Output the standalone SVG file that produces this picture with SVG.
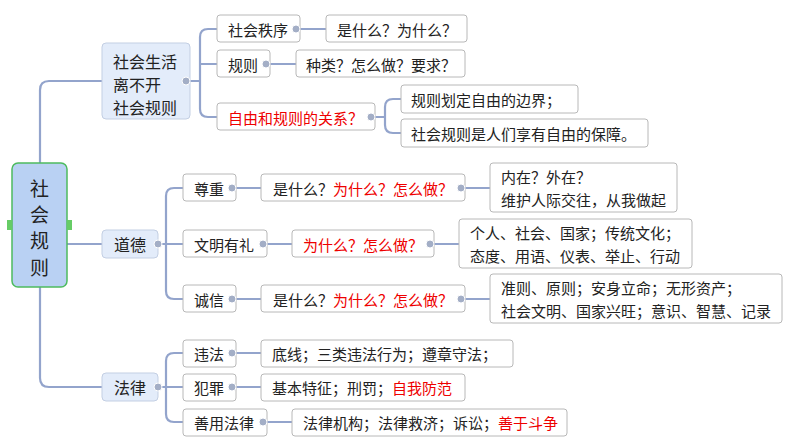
<svg xmlns="http://www.w3.org/2000/svg" width="794" height="447" viewBox="0 0 794 447">
<style>
text{font-family:"Noto Sans CJK SC","Liberation Sans",sans-serif;fill:#222;font-size:15px;dominant-baseline:central}
.r{fill:#e00}
.n{fill:#fff;stroke:#b8b8b8;stroke-width:1}
.b{fill:#e3ecfa;stroke:#c3cfe3;stroke-width:1}
.c path{fill:none;stroke:#93a4cc;stroke-width:2.2}
.d{fill:#a3aec6;stroke:#fff;stroke-width:1}
.big{font-size:16px}
.rt{font-size:19px}
</style>
<rect width="794" height="447" fill="#fff"/>
<g class="c">
<path d="M40 163V90Q40 81 49 81H102"/>
<path d="M40 287V378Q40 387 49 387H102"/>
<path d="M67 244H102"/>
<path d="M190 81H200M217 29H208Q200 29 200 37V109Q200 117 208 117H217M200 64H217"/>
<path d="M300 29H326M270 64H296"/>
<path d="M375 117H385M401 99H393Q385 99 385 107V125Q385 133 393 133H401"/>
<path d="M158 244H166M183 188H174Q166 188 166 196V291Q166 299 174 299H183M166 244H183"/>
<path d="M236 188H261M267 244H292M236 299H261M465 188H490M434 244H459M465 299H490"/>
<path d="M158 387H166M183 353H174Q166 353 166 361V414Q166 422 174 422H183M166 387H183"/>
<path d="M236 353H261M236 387H261M267 422H292"/>
</g>
<g id="root"><rect x="12" y="163" width="55" height="124" rx="6" fill="#b9d1f3" stroke="#4dbb5f" stroke-width="1.5"/>
<text class="rt" x="39.5" y="187" text-anchor="middle">社</text><text class="rt" x="39.5" y="213" text-anchor="middle">会</text><text class="rt" x="39.5" y="239" text-anchor="middle">规</text><text class="rt" x="39.5" y="266" text-anchor="middle">则</text>
<rect x="7" y="220" width="5" height="10" fill="#6c6"/><rect x="67" y="220" width="5" height="10" fill="#6c6"/></g>
<g id="n1"><rect class="b" x="102" y="43" width="88" height="76" rx="4"/><text class="big" x="113" y="61">社会生活</text><text class="big" x="113" y="84">离不开</text><text class="big" x="113" y="107">社会规则</text><circle class="d" cx="186" cy="81" r="4"/></g>
<g id="n2"><rect class="b" x="102" y="230" width="56" height="28" rx="4"/><text class="big" x="130" y="244" text-anchor="middle">道德</text><circle class="d" cx="158" cy="244" r="4"/></g>
<g id="n3"><rect class="b" x="102" y="373" width="56" height="28" rx="4"/><text class="big" x="130" y="387" text-anchor="middle">法律</text><circle class="d" cx="158" cy="387" r="4"/></g>
<g id="a1"><rect class="n" x="217" y="15" width="83" height="27" rx="3"/><text x="228" y="29">社会秩序</text><circle class="d" cx="296" cy="29" r="4"/></g>
<g id="a1b"><rect class="n" x="326" y="15" width="141" height="27" rx="3"/><text x="337" y="29">是什么？为什么？</text></g>
<g id="a2"><rect class="n" x="217" y="50" width="53" height="27" rx="3"/><text x="228" y="64">规则</text><circle class="d" cx="266" cy="64" r="4"/></g>
<g id="a2b"><rect class="n" x="296" y="50" width="169" height="27" rx="3"/><text x="306" y="64">种类？怎么做？要求？</text></g>
<g id="a3"><rect class="n" x="217" y="103" width="158" height="27" rx="3"/><text class="r" x="228" y="117">自由和规则的关系？</text><circle class="d" cx="371" cy="117" r="4"/></g>
<g id="a3a"><rect class="n" x="401" y="85" width="177" height="28" rx="3"/><text x="411" y="99">规则划定自由的边界；</text></g>
<g id="a3b"><rect class="n" x="401" y="119" width="247" height="28" rx="3"/><text x="411" y="133">社会规则是人们享有自由的保障。</text></g>
<g id="b1"><rect class="n" x="183" y="174" width="53" height="27" rx="3"/><text x="194" y="188">尊重</text><circle class="d" cx="232" cy="188" r="4"/></g>
<g id="b1b"><rect class="n" x="261" y="174" width="204" height="27" rx="3"/><text x="273" y="188">是什么？<tspan class="r">为什么？怎么做？</tspan></text><circle class="d" cx="461" cy="188" r="4"/></g>
<g id="b1c"><rect class="n" x="490" y="163" width="187" height="49" rx="3"/><text x="501" y="176">内在？外在？</text><text x="501" y="199">维护人际交往，从我做起</text></g>
<g id="b2"><rect class="n" x="183" y="230" width="84" height="27" rx="3"/><text x="194" y="244">文明有礼</text><circle class="d" cx="263" cy="244" r="4"/></g>
<g id="b2b"><rect class="n" x="292" y="230" width="142" height="27" rx="3"/><text class="r" x="303" y="244">为什么？怎么做？</text><circle class="d" cx="430" cy="244" r="4"/></g>
<g id="b2c"><rect class="n" x="459" y="219" width="233" height="49" rx="3"/><text x="470" y="232">个人、社会、国家；传统文化；</text><text x="470" y="255">态度、用语、仪表、举止、行动</text></g>
<g id="b3"><rect class="n" x="183" y="285" width="53" height="27" rx="3"/><text x="194" y="299">诚信</text><circle class="d" cx="232" cy="299" r="4"/></g>
<g id="b3b"><rect class="n" x="261" y="285" width="204" height="27" rx="3"/><text x="273" y="299">是什么？<tspan class="r">为什么？怎么做？</tspan></text><circle class="d" cx="461" cy="299" r="4"/></g>
<g id="b3c"><rect class="n" x="490" y="274" width="292" height="49" rx="3"/><text x="501" y="287">准则、原则；安身立命；无形资产；</text><text x="501" y="310">社会文明、国家兴旺；意识、智慧、记录</text></g>
<g id="c1"><rect class="n" x="183" y="340" width="53" height="27" rx="3"/><text x="194" y="353">违法</text><circle class="d" cx="232" cy="353" r="4"/></g>
<g id="c1b"><rect class="n" x="261" y="340" width="252" height="27" rx="3"/><text x="272" y="353">底线；三类违法行为；遵章守法；</text></g>
<g id="c2"><rect class="n" x="183" y="374" width="53" height="27" rx="3"/><text x="194" y="387">犯罪</text><circle class="d" cx="232" cy="387" r="4"/></g>
<g id="c2b"><rect class="n" x="261" y="374" width="204" height="27" rx="3"/><text x="272" y="387">基本特征；刑罚；<tspan class="r">自我防范</tspan></text></g>
<g id="c3"><rect class="n" x="183" y="409" width="84" height="27" rx="3"/><text x="194" y="422">善用法律</text><circle class="d" cx="263" cy="422" r="4"/></g>
<g id="c3b"><rect class="n" x="292" y="409" width="275" height="27" rx="3"/><text x="303" y="422">法律机构；法律救济；诉讼；<tspan class="r">善于斗争</tspan></text></g>
</svg>
